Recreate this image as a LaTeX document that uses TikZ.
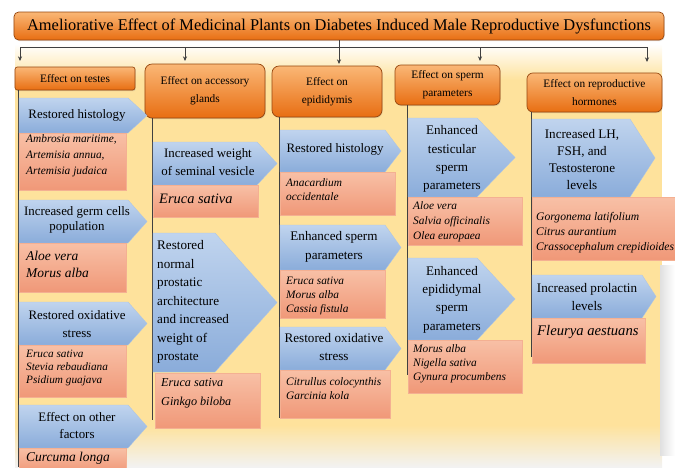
\documentclass[tikz,border=0pt]{standalone}
\usepackage{fontspec}
\setmainfont{Liberation Serif}
\usetikzlibrary{arrows.meta, shadows}

\definecolor{hdrTop}{RGB}{250,183,118}
\definecolor{hdrBot}{RGB}{232,110,18}
\definecolor{hdrEdge}{RGB}{150,70,15}
\definecolor{effTop}{RGB}{192,212,238}
\definecolor{effBot}{RGB}{138,172,218}
\definecolor{effEdge}{RGB}{172,196,228}
\definecolor{plantTop}{RGB}{248,192,166}
\definecolor{plantBot}{RGB}{240,152,120}
\definecolor{plantEdge}{RGB}{244,176,146}
\definecolor{bgYellow}{RGB}{254,226,156}

\begin{document}
\begin{tikzpicture}[x=0.03cm, y=-0.03cm,
    hdrbox/.style={draw=hdrEdge, line width=0.6pt, top color=hdrTop, bottom color=hdrBot,
      rounded corners=5pt, align=center, inner sep=1pt, font=\fontsize{9.7}{15.5}\selectfont,
      drop shadow={opacity=0.25, shadow xshift=0.6pt, shadow yshift=-0.9pt}},
    effarrow/.style={draw=effEdge, line width=0.3pt, top color=effTop, bottom color=effBot},
    plantbox/.style={draw=plantEdge, line width=0.3pt, top color=plantTop, bottom color=plantBot},
    efftext/.style={align=center, inner sep=0pt, font=\fontsize{11}{15.4}\selectfont},
    planttext/.style={align=left, anchor=west, inner sep=0pt, font=\fontsize{9.7}{12}\selectfont\itshape},
    colline/.style={draw=black!75, line width=0.6pt},
    busline/.style={draw=black!75, line width=0.7pt},
    busarrow/.style={busline, -{Stealth[length=4pt, width=3.5pt]}},
  ]
  \useasboundingbox (0,0) rectangle (675,467);

  % yellow backdrop, fading out at top and bottom
  \shade[top color=white, bottom color=bgYellow] (15,44) rectangle (662,80);
  \fill[bgYellow] (15,80) rectangle (662,425);
  \shade[top color=bgYellow, bottom color=black!5] (15,425) rectangle (662,467);
  \shade[left color=black!12, right color=white] (660,265) rectangle (675,455);

  % title and the five effect groups
  \node[hdrbox, rounded corners=4pt, minimum width=19.5cm, minimum height=0.84cm,
        font=\fontsize{14}{16}\selectfont] (title) at (339,26)
    {Ameliorative Effect of Medicinal Plants on Diabetes Induced Male Reproductive Dysfunctions};
  \node[hdrbox, rounded corners=2pt, minimum width=3.6cm, minimum height=0.69cm] (h1) at (75,78.5) {Effect on testes};
  \node[hdrbox, rounded corners=6pt, minimum width=3.6cm, minimum height=1.62cm] (h2) at (205,91) {Effect on accessory\\glands};
  \node[hdrbox, rounded corners=6pt, minimum width=3.3cm, minimum height=1.53cm] (h3) at (327,91.5) {Effect on\\epididymis};
  \node[hdrbox, minimum width=3.15cm, minimum height=1.2cm] (h4) at (447.5,85) {Effect on sperm\\parameters};
  \node[hdrbox, minimum width=4.05cm, minimum height=1.17cm] (h5) at (594.5,92.5) {Effect on reproductive\\hormones};

  % bus from the title to the groups
  \coordinate (b1) at (20,47);  \coordinate (a1) at (20,61);
  \coordinate (b2) at (185,47); \coordinate (a2) at (185,61);
  \coordinate (a3) at (339,64);
  \coordinate (b4) at (480,47); \coordinate (a4) at (480,61);
  \coordinate (b5) at (647,47); \coordinate (a5) at (647,62);
  \draw[busline] (b1) -- (b5);
  \draw[busarrow] (title.south) -- (a3);
  \foreach \i in {1,2,4,5} \draw[busarrow] (b\i) -- (a\i);

  % column rules
  \coordinate (c1e) at (18,467);
  \coordinate (c2e) at (152,420);
  \coordinate (c3e) at (279,418);
  \coordinate (c4e) at (407,375);
  \coordinate (c5e) at (531,357);
  \foreach \i in {1,...,5} \draw[colline] (h\i.south west -| c\i e) -- (c\i e);

  % testes
  \path[effarrow] (19,98) -- (128,98) -- (147,115.5) -- (128,133) -- (19,133) -- cycle;
  \node[efftext] (e1) at (77,115) {Restored histology};
  \path[plantbox] (19,133) rectangle (126,190);
  \node[planttext, font=\fontsize{9.7}{13.5}\selectfont\itshape] (p1) at (26,156) {Ambrosia maritime,\\Artemisia annua,\\Artemisia judaica};
  \path[effarrow] (19,200) -- (128,200) -- (147,221.5) -- (128,243) -- (19,243) -- cycle;
  \node[efftext, font=\fontsize{11}{13}\selectfont] (e2) at (77,220) {Increased germ cells\\population};
  \path[plantbox] (19,243) rectangle (126,292);
  \node[planttext, font=\fontsize{11.5}{14.5}\selectfont\itshape] (p2) at (26,264) {Aloe vera\\Morus alba};
  \path[effarrow] (19,302) -- (128,302) -- (147,323.5) -- (128,345) -- (19,345) -- cycle;
  \node[efftext] (e3) at (77,324) {Restored oxidative\\stress};
  \path[plantbox] (19,345) rectangle (126,397);
  \node[planttext, font=\fontsize{9.6}{10.8}\selectfont\itshape] (p3) at (26,368) {Eruca sativa\\Stevia rebaudiana\\Psidium guajava};
  \path[effarrow] (19,405) -- (128,405) -- (147,426.5) -- (128,448) -- (19,448) -- cycle;
  \node[efftext, font=\fontsize{11}{14.5}\selectfont] (e4) at (77,426) {Effect on other\\factors};
  \path[plantbox] (19,448) rectangle (126,472);
  \node[planttext, font=\fontsize{11.5}{14}\selectfont\itshape] (p4) at (26,458) {Curcuma longa};

  % accessory glands
  \path[effarrow] (153,142) -- (257,142) -- (277,163.5) -- (257,185) -- (153,185) -- cycle;
  \node[efftext] (e5) at (208,162) {Increased weight\\of seminal vesicle};
  \path[plantbox] (153,185) rectangle (258,217);
  \node[planttext, font=\fontsize{12.3}{14}\selectfont\itshape] (p5) at (159,199) {Eruca sativa};
  \path[effarrow] (153,233) -- (215,233) -- (277,302.5) -- (215,372) -- (153,372) -- cycle;
  \node[efftext, align=left, anchor=west, font=\fontsize{11.2}{15.8}\selectfont] (e6) at (157,302)
    {Restored\\normal\\prostatic\\architecture\\and increased\\weight of\\prostate};
  \path[plantbox] (155,373) rectangle (260,428);
  \node[planttext, font=\fontsize{10.4}{16}\selectfont\itshape] (p6) at (161,393) {Eruca sativa\\Ginkgo biloba};

  % epididymis
  \path[effarrow] (280,130) -- (385,130) -- (401,151) -- (385,172) -- (280,172) -- cycle;
  \node[efftext] (e7) at (335,149) {Restored histology};
  \path[plantbox] (280,172) rectangle (395,215);
  \node[planttext] (p7) at (286,190) {Anacardium\\occidentale};
  \path[effarrow] (280,225) -- (385,225) -- (401,247.5) -- (385,270) -- (280,270) -- cycle;
  \node[efftext, font=\fontsize{11.2}{16}\selectfont] (e8) at (334,247) {Enhanced sperm\\parameters};
  \path[plantbox] (280,270) rectangle (385,318);
  \node[planttext] (p8) at (286,296) {Eruca sativa\\Morus alba\\Cassia fistula};
  \path[effarrow] (280,327) -- (385,327) -- (401,348.5) -- (385,370) -- (280,370) -- cycle;
  \node[efftext, font=\fontsize{11.2}{16}\selectfont] (e9) at (334,347) {Restored oxidative\\stress};
  \path[plantbox] (280,370) rectangle (390,418);
  \node[planttext] (p9) at (286,389) {Citrullus colocynthis\\Garcinia kola};

  % sperm parameters
  \path[effarrow] (408,118) -- (477,118) -- (515,157.5) -- (477,197) -- (408,197) -- cycle;
  \node[efftext, font=\fontsize{11.2}{15.6}\selectfont] (e10) at (452,159) {Enhanced\\testicular\\sperm\\parameters};
  \path[plantbox] (408,197) rectangle (522,245);
  \node[planttext, font=\fontsize{9.7}{12.8}\selectfont\itshape] (p10) at (413,222) {Aloe vera\\Salvia officinalis\\Olea europaea};
  \path[effarrow] (408,258) -- (477,258) -- (515,299) -- (477,340) -- (408,340) -- cycle;
  \node[efftext, font=\fontsize{11.2}{15.6}\selectfont] (e11) at (452,299.5) {Enhanced\\epididymal\\sperm\\parameters};
  \path[plantbox] (408,340) rectangle (522,393);
  \node[planttext] (p11) at (413,364) {Morus alba\\Nigella sativa\\Gynura procumbens};

  % reproductive hormones
  \path[effarrow] (532,119) -- (630,119) -- (655,158) -- (630,197) -- (532,197) -- cycle;
  \node[efftext, font=\fontsize{11.2}{14.5}\selectfont] (e12) at (582,159.5) {Increased LH,\\FSH, and\\Testosterone\\levels};
  \path[plantbox] (532,197) rectangle (676,260);
  \node[planttext, font=\fontsize{9.9}{12.8}\selectfont\itshape] (p12) at (536,233) {Gorgonema latifolium\\Citrus aurantium\\Crassocephalum crepidioides};
  \path[effarrow] (532,275) -- (642,275) -- (656,296.5) -- (642,318) -- (532,318) -- cycle;
  \node[efftext, font=\fontsize{11.2}{16}\selectfont] (e13) at (587,297) {Increased prolactin\\levels};
  \path[plantbox] (532,318) rectangle (645,363);
  \node[planttext, font=\fontsize{12.5}{14}\selectfont\itshape] (p13) at (537,332) {Fleurya aestuans};
\end{tikzpicture}
\end{document}
